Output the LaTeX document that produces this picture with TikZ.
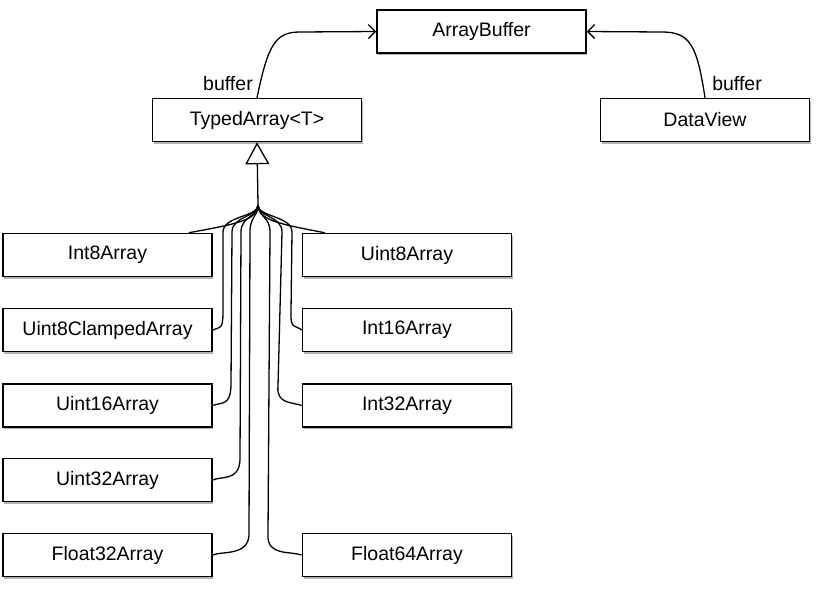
\documentclass[tikz,border=0pt]{standalone}
\usepackage{fontspec}
\setmainfont{Liberation Sans}
\usetikzlibrary{arrows.meta,shadows}
\begin{document}
\begin{tikzpicture}[x=1pt,y=-1pt,
  box/.style={draw,line width=1.5pt,fill=white,rectangle,inner sep=0pt,
    minimum width=209pt,minimum height=43pt,
    font=\fontsize{19.5}{22}\selectfont,
    drop shadow={shadow xshift=1.2pt,shadow yshift=-2pt,opacity=0.3,fill=black}},
  conn/.style={line width=1.3pt},
  assoc/.style={conn,-{Straight Barb[length=7pt,width=14pt,line width=1.3pt]}},
  inherit/.style={conn,-{Triangle[open,length=22pt,width=24pt,line width=1.3pt]}},
  lbl/.style={font=\fontsize{19.5}{22}\selectfont,inner sep=0pt}]
\useasboundingbox (0,0) rectangle (825,597);
\fill[white] (0,0) rectangle (825,597);

\node[box] (ab) at (481.5,31.5) {ArrayBuffer};
\node[box] (ta) at (257,120) {TypedArray<T>};
\node[box] (dv) at (705,120) {DataView};

\node[box] (i8)  at (107.5,255) {Int8Array};
\node[box] (u8c) at (107.5,330) {Uint8ClampedArray};
\node[box] (u16) at (107.5,405.5) {Uint16Array};
\node[box] (u32) at (107.5,480) {Uint32Array};
\node[box] (f32) at (107.5,555) {Float32Array};

\node[box] (u8)  at (407,255) {Uint8Array};
\node[box] (i16) at (407,330) {Int16Array};
\node[box] (i32) at (407,405.5) {Int32Array};
\node[box] (f64) at (407,555) {Float64Array};

% associations
\draw[assoc] (ta.north) .. controls (268,45) and (275,32) .. (300,32) -- (ab.west);
\draw[assoc] (dv.north) .. controls (697,45) and (690,32) .. (662,32) -- (ab.east);
\node[lbl] (l1) at (228,84) {buffer};
\node[lbl] (l2) at (737,84) {buffer};

% inheritance
\coordinate (J) at (258,205);
\draw[inherit] (J) -- (ta.south);

% outer fan lines
\draw[conn] (J) .. controls (256,220) and (242,223) .. ([xshift=-24pt]i8.north east);
\draw[conn] (J) .. controls (260,220) and (274,223) .. ([xshift=23pt]u8.north west);

% left verticals
\draw[conn] (J) .. controls (258,217) and (223,216) .. (223,232) -- (223,312)
  .. controls (223,330) and (220,327) .. (u8c.east);
\draw[conn] (J) .. controls (258,217) and (232,216) .. (232,232) -- (231,386)
  .. controls (230,406) and (222,402) .. (u16.east);
\draw[conn] (J) .. controls (258,217) and (241,216) .. (241,232) -- (240,460)
  .. controls (239,481) and (222,476) .. (u32.east);
\draw[conn] (J) .. controls (258,217) and (250,216) .. (250,232) -- (249,535)
  .. controls (248,556) and (222,551) .. (f32.east);

% right verticals
\draw[conn] (J) .. controls (258,217) and (292,216) .. (292,232) -- (291,312)
  .. controls (290,330) and (296,325) .. (i16.west);
\draw[conn] (J) .. controls (258,217) and (282,216) .. (282,232) -- (278,386)
  .. controls (276,404) and (292,402) .. (i32.west);
\draw[conn] (J) .. controls (258,217) and (270,216) .. (270,232) -- (268,535)
  .. controls (267,556) and (290,551) .. (f64.west);
\end{tikzpicture}
\end{document}
